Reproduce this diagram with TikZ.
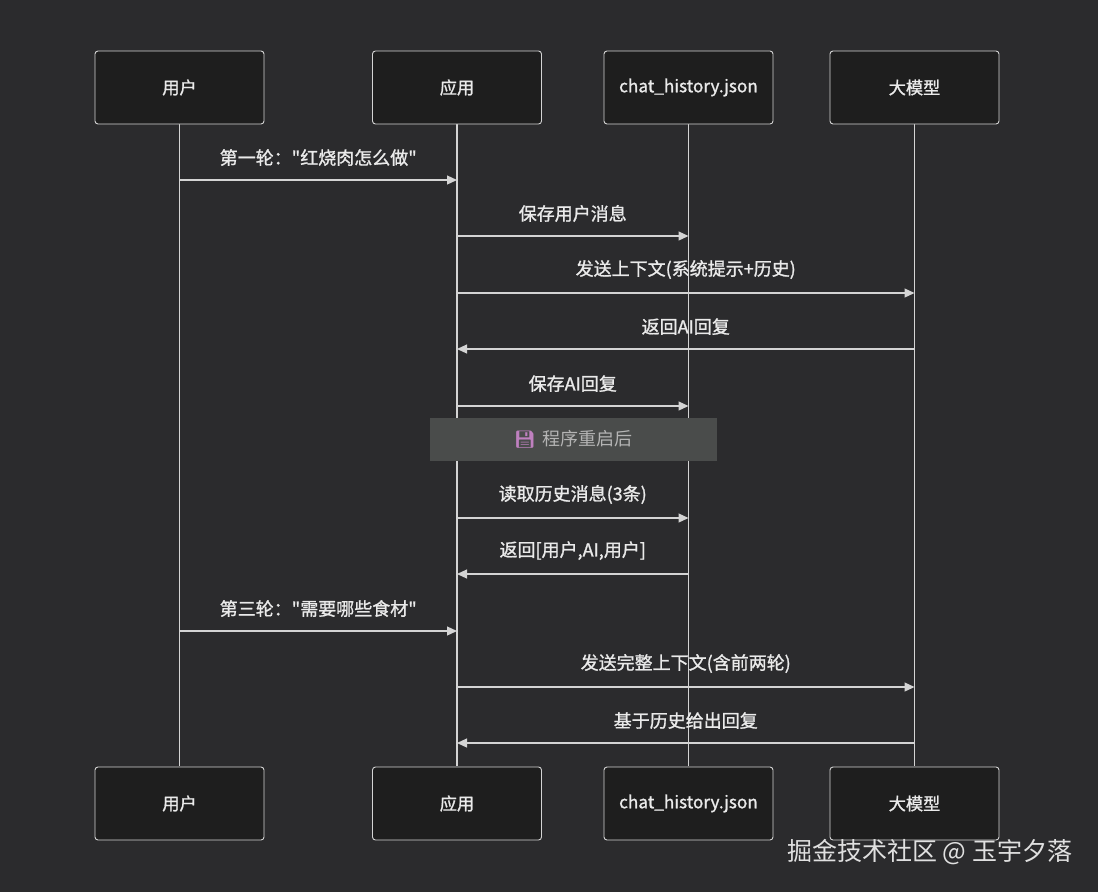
\documentclass[tikz,border=0pt]{standalone}
\usepackage{fontspec}
\setmainfont{Noto Sans CJK SC}
\newfontfamily\cjk[FakeBold=1.2]{Noto Sans CJK SC}
\newfontfamily\cjkr{Noto Sans CJK SC}
\newfontfamily\emojifont{Noto Emoji}
\usetikzlibrary{arrows.meta}
\definecolor{bg}{HTML}{2B2B2D}
\definecolor{boxfill}{HTML}{1E1E1E}
\definecolor{ln}{HTML}{D4D4D4}
\definecolor{txt}{HTML}{EAEAEA}
\definecolor{notefill}{HTML}{4A4C4B}
\tikzset{
  actor/.style={draw=ln, line width=0.9pt, fill=boxfill, rounded corners=3pt, minimum width=169pt, minimum height=73pt, text=txt, font=\cjk\fontsize{17.2}{19}\selectfont, inner sep=0pt},
  life/.style={draw=ln, line width=1.4pt},
  msg/.style={draw=ln, line width=1.2pt, -{Triangle[length=10pt,width=9pt]}},
  lbl/.style={text=txt, font=\cjk\fontsize{18}{20}\selectfont, inner sep=0pt},
}
\begin{document}
\begin{tikzpicture}[x=1pt,y=-1pt]
\fill[bg] (0,0) rectangle (1098,892);
\useasboundingbox (0,0) rectangle (1098,892);
% lifelines
\foreach \n/\x in {u/179.5,a/457,c/688.5,m/914.5}{
  \coordinate (\n top) at (\x,123);
  \coordinate (\n bot) at (\x,766);
}
\draw[life] (utop) -- (ubot);
\draw[life] (atop) -- (abot);
\draw[life] (ctop) -- (cbot);
\draw[life] (mtop) -- (mbot);
% actors
\node[actor] (u1) at (179.5,87.5) {用户};
\node[actor] (a1) at (457,87.5) {应用};
\node[actor] (c1) at (688.5,87.5) {chat\_history.json};
\node[actor] (m1) at (914.5,87.5) {大模型};
\node[actor] (u2) at (179.5,803.5) {用户};
\node[actor] (a2) at (457,803.5) {应用};
\node[actor] (c2) at (688.5,803.5) {chat\_history.json};
\node[actor] (m2) at (914.5,803.5) {大模型};
% message coordinates
\foreach \y [count=\i] in {180,236,293,349,406,518,574,631,687,743}{
  \coordinate (u\i) at (179.5,\y);
  \coordinate (a\i) at (457,\y);
  \coordinate (c\i) at (688.5,\y);
  \coordinate (m\i) at (914.5,\y);
}
\draw[msg] (u1) -- node[lbl, above=13.5pt] (l1) {第一轮："红烧肉怎么做"} (a1);
\draw[msg] (a2) -- node[lbl, above=13.5pt] (l2) {保存用户消息} (c2);
\draw[msg] (a3) -- node[lbl, above=13.5pt] (l3) {发送上下文(系统提示+历史)} (m3);
\draw[msg] (m4) -- node[lbl, above=13.5pt] (l4) {返回AI回复} (a4);
\draw[msg] (a5) -- node[lbl, above=13.5pt] (l5) {保存AI回复} (c5);
% note
\node[fill=notefill, minimum width=287pt, minimum height=43pt, inner sep=0pt, text=ln!85!black, font=\cjkr\fontsize{18}{20}\selectfont] (note) at (573.5,439.5) {{\emojifont\fontsize{17}{19}\selectfont\textcolor{violet!50!white}{💾}}\hspace{7pt}程序重启后};
\draw[msg] (a6) -- node[lbl, above=13.5pt] (l6) {读取历史消息(3条)} (c6);
\draw[msg] (c7) -- node[lbl, above=13.5pt] (l7) {返回[用户,AI,用户]} (a7);
\draw[msg] (u8) -- node[lbl, above=13.5pt] (l8) {第三轮："需要哪些食材"} (a8);
\draw[msg] (a9) -- node[lbl, above=13.5pt] (l9) {发送完整上下文(含前两轮)} (m9);
\draw[msg] (m10) -- node[lbl, above=13.5pt] (l10) {基于历史给出回复} (a10);
% watermark
\node[anchor=west, text=white!88!black, font=\cjkr\fontsize{25}{28}\selectfont, inner sep=0pt] (wm) at (787,852) {掘金技术社区 @ 玉宇夕落};
\end{tikzpicture}
\end{document}
